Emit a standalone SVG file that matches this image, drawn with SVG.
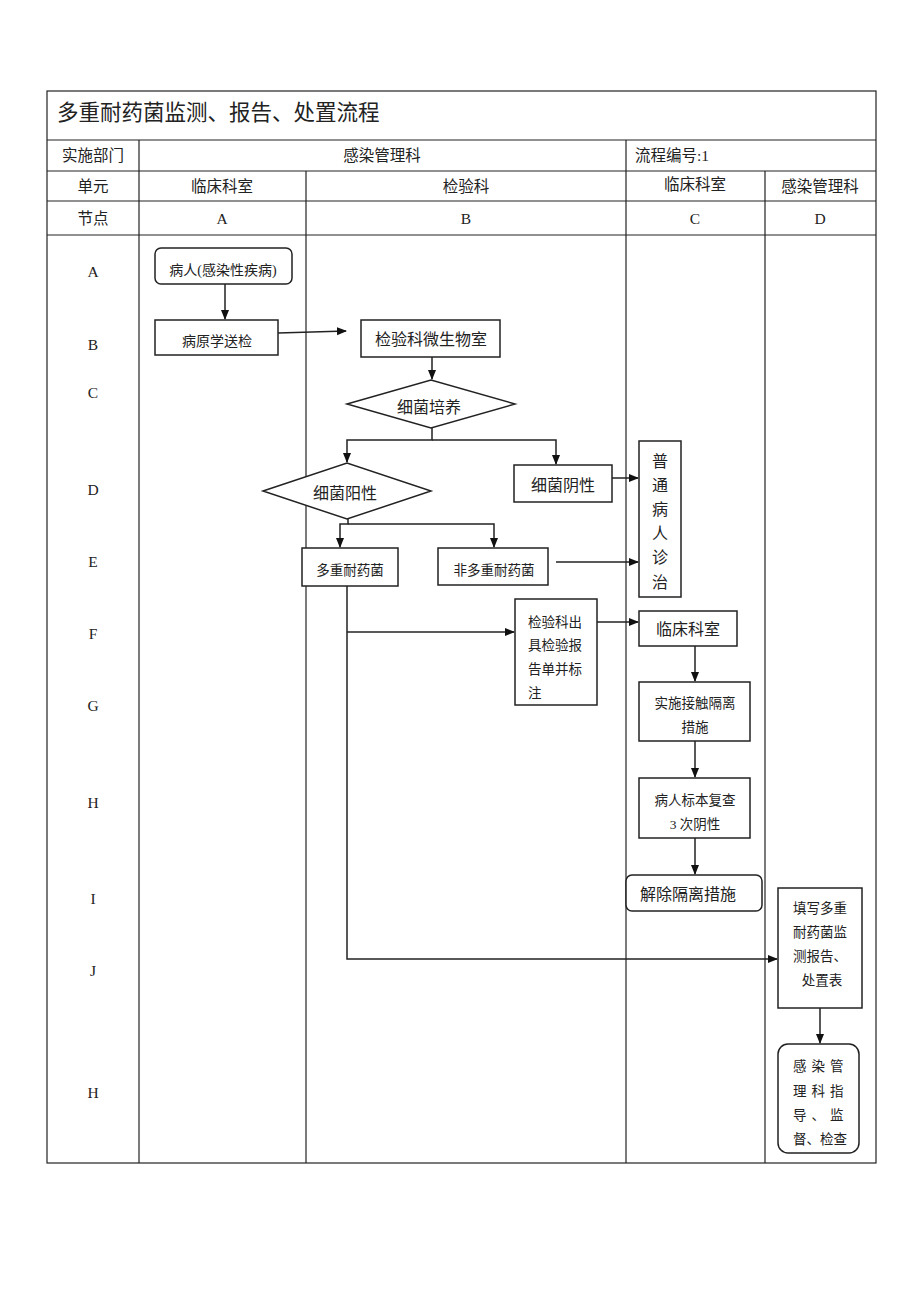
<svg xmlns="http://www.w3.org/2000/svg" width="920" height="1302" viewBox="0 0 920 1302">
<style>
text{font-family:"Liberation Serif","Noto Sans CJK SC",serif;fill:#222;}
.t{font-size:15.5px;text-anchor:middle;}
.s{font-size:13.5px;text-anchor:middle;}
.m{font-size:16px;text-anchor:middle;}
.grid line{stroke:#222;stroke-width:1.2;}
.box{fill:#fff;stroke:#222;stroke-width:1.5;}
.c{fill:none;stroke:#222;stroke-width:1.5;}
</style>
<defs>
<marker id="ah" markerWidth="10" markerHeight="10" refX="9" refY="5" orient="auto" markerUnits="userSpaceOnUse">
<path d="M0,1 L10,5 L0,9 Z" fill="#111"/>
</marker>
</defs>
<rect width="920" height="1302" fill="#fff"/>
<g id="table" class="grid">
<rect x="47" y="91" width="829" height="1072" fill="none" stroke="#222" stroke-width="1.2"/>
<line x1="47" y1="140" x2="876" y2="140"/>
<line x1="47" y1="171" x2="876" y2="171"/>
<line x1="47" y1="201" x2="876" y2="201"/>
<line x1="47" y1="235" x2="876" y2="235"/>
<line x1="139" y1="140" x2="139" y2="1163"/>
<line x1="306" y1="171" x2="306" y2="1163"/>
<line x1="626" y1="140" x2="626" y2="1163"/>
<line x1="765" y1="171" x2="765" y2="1163"/>
</g>
<g id="headers">
<text x="57" y="120" style="font-size:21.5px">多重耐药菌监测、报告、处置流程</text>
<text class="t" x="93" y="161">实施部门</text>
<text class="t" x="382" y="161">感染管理科</text>
<text x="635" y="161" style="font-size:15.5px">流程编号:1</text>
<text class="t" x="93" y="192">单元</text>
<text class="t" x="222" y="192">临床科室</text>
<text class="t" x="466" y="192">检验科</text>
<text class="t" x="695" y="190">临床科室</text>
<text class="t" x="820" y="192">感染管理科</text>
<text class="t" x="93" y="224">节点</text>
<text class="t" x="222" y="224">A</text>
<text class="t" x="466" y="224">B</text>
<text class="t" x="695" y="224">C</text>
<text class="t" x="820" y="224">D</text>
</g>
<g id="rowlabels">
<text class="t" x="93" y="277">A</text>
<text class="t" x="93" y="350">B</text>
<text class="t" x="93" y="398">C</text>
<text class="t" x="93" y="495">D</text>
<text class="t" x="93" y="567">E</text>
<text class="t" x="93" y="639">F</text>
<text class="t" x="93" y="711">G</text>
<text class="t" x="93" y="808">H</text>
<text class="t" x="93" y="904">I</text>
<text class="t" x="93" y="976">J</text>
<text class="t" x="93" y="1098">H</text>
</g>
<g id="connectors">
<line class="c" x1="225" y1="284" x2="225" y2="319" marker-end="url(#ah)"/>
<line class="c" x1="278" y1="333" x2="346" y2="331" marker-end="url(#ah)"/>
<line class="c" x1="432" y1="357" x2="432" y2="379" marker-end="url(#ah)"/>
<polyline class="c" points="432,428 432,440 347,440 347,462" marker-end="url(#ah)"/>
<polyline class="c" points="432,440 556,440 556,464" marker-end="url(#ah)"/>
<line class="c" x1="612" y1="478" x2="638" y2="478" marker-end="url(#ah)"/>
<polyline class="c" points="348,519 348,524 340,524 340,547" marker-end="url(#ah)"/>
<polyline class="c" points="348,524 494,524 494,547" marker-end="url(#ah)"/>
<line class="c" x1="556" y1="562" x2="638" y2="562" marker-end="url(#ah)"/>
<polyline class="c" points="347,586 347,959 777,959" marker-end="url(#ah)"/>
<line class="c" x1="347" y1="632" x2="514" y2="632" marker-end="url(#ah)"/>
<line class="c" x1="597" y1="622" x2="638" y2="622" marker-end="url(#ah)"/>
<line class="c" x1="695" y1="646" x2="695" y2="681" marker-end="url(#ah)"/>
<line class="c" x1="695" y1="741" x2="695" y2="777" marker-end="url(#ah)"/>
<line class="c" x1="695" y1="838" x2="695" y2="874" marker-end="url(#ah)"/>
<line class="c" x1="820" y1="1008" x2="820" y2="1043" marker-end="url(#ah)"/>
</g>
<g id="n-patient">
<rect class="box" x="155" y="248" width="137" height="36" rx="6"/>
<text class="s" x="223" y="275" style="font-size:14px">病人(感染性疾病)</text>
</g>
<g id="n-send">
<rect class="box" x="155" y="320" width="123" height="35"/>
<text class="s" x="217" y="346" style="font-size:14px">病原学送检</text>
</g>
<g id="n-lab">
<rect class="box" x="361" y="320" width="139" height="37"/>
<text class="m" x="431" y="345">检验科微生物室</text>
</g>
<g id="n-culture">
<polygon class="box" points="347,404 431,380 515,404 431,428"/>
<text class="m" x="429" y="413">细菌培养</text>
</g>
<g id="n-positive">
<polygon class="box" points="263,491 347,463 431,491 347,519"/>
<text class="m" x="345" y="499">细菌阳性</text>
</g>
<g id="n-negative">
<rect class="box" x="514" y="465" width="98" height="37"/>
<text class="m" x="563" y="491">细菌阴性</text>
</g>
<g id="n-normal">
<rect class="box" x="639" y="441" width="42" height="156"/>
<text class="m" x="660" y="467">普</text>
<text class="m" x="660" y="491">通</text>
<text class="m" x="660" y="515">病</text>
<text class="m" x="660" y="539">人</text>
<text class="m" x="660" y="563">诊</text>
<text class="m" x="660" y="588">治</text>
</g>
<g id="n-mdro">
<rect class="box" x="302" y="548" width="96" height="38"/>
<text class="s" x="350" y="575">多重耐药菌</text>
</g>
<g id="n-nonmdro">
<rect class="box" x="438" y="548" width="110" height="37"/>
<text class="s" x="494" y="575">非多重耐药菌</text>
</g>
<g id="n-report">
<rect class="box" x="515" y="599" width="82" height="106"/>
<text x="528" y="627" style="font-size:13.5px">检验科出</text>
<text x="528" y="650" style="font-size:13.5px">具检验报</text>
<text x="528" y="674" style="font-size:13.5px">告单并标</text>
<text x="528" y="698" style="font-size:13.5px">注</text>
</g>
<g id="n-clinic">
<rect class="box" x="639" y="611" width="98" height="35"/>
<text class="m" x="688" y="635">临床科室</text>
</g>
<g id="n-isolate">
<rect class="box" x="639" y="682" width="111" height="59"/>
<text class="s" x="695" y="708">实施接触隔离</text>
<text class="s" x="695" y="732">措施</text>
</g>
<g id="n-recheck">
<rect class="box" x="639" y="778" width="111" height="60"/>
<text class="s" x="695" y="805">病人标本复查</text>
<text class="s" x="695" y="829">3 次阴性</text>
</g>
<g id="n-release">
<rect class="box" x="626" y="875" width="136" height="36" rx="6"/>
<text x="640" y="900" style="font-size:16px">解除隔离措施</text>
</g>
<g id="n-form">
<rect class="box" x="778" y="888" width="84" height="120"/>
<text class="s" x="820" y="913">填写多重</text>
<text class="s" x="820" y="937">耐药菌监</text>
<text class="s" x="820" y="961">测报告、</text>
<text class="s" x="822" y="985">处置表</text>
</g>
<g id="n-supervise">
<rect class="box" x="778" y="1044" width="81" height="109" rx="10"/>
<text x="793" y="1071" style="font-size:13.5px;letter-spacing:5px">感染管</text>
<text x="793" y="1096" style="font-size:13.5px;letter-spacing:5px">理科指</text>
<text x="793" y="1120" style="font-size:13.5px;letter-spacing:5px">导、监</text>
<text x="793" y="1144" style="font-size:13.5px">督、检查</text>
</g>
</svg>
